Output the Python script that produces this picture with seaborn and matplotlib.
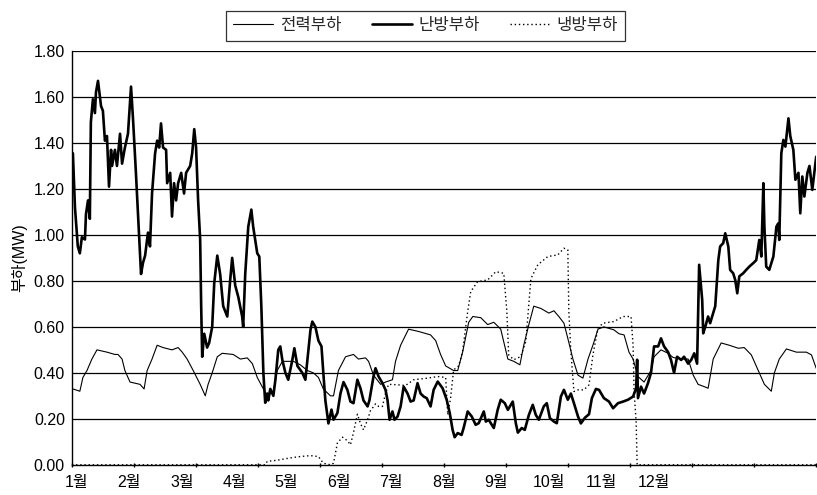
import matplotlib
matplotlib.use("Agg")
import matplotlib.pyplot as plt
import numpy as np
import pandas as pd
import seaborn as sns

# day of year / load [MW]
elec_day = [0.5, 3.9, 5.4, 7.4, 9.8, 12.3, 17.2, 21.1, 22.6, 24.6, 26.0, 28.5, 33.4, 35.4, 36.9,
            39.3, 41.8, 44.7, 49.1, 52.1, 54.1, 56.5, 59.5, 62.9, 65.4, 66.8, 68.8, 71.3, 73.7,
            79.1, 82.6, 86.0, 88.5, 90.9, 93.9, 95.8, 98.8, 100.7, 103.2, 108.6, 112.0, 115.5,
            118.4, 120.9, 123.3, 126.8, 128.3, 130.7, 134.2, 138.1, 140.5, 144.0, 145.5, 147.9,
            151.4, 153.8, 157.2, 158.7, 161.2, 165.1, 170.0, 175.9, 178.4, 180.8, 183.3, 187.2,
            189.2, 191.6, 194.6, 196.6, 200.5, 203.9, 206.9, 210.3, 213.8, 216.7, 219.7, 221.6,
            224.1, 226.5, 230.0, 233.9, 236.4, 238.8, 241.3, 243.2, 245.7, 248.2, 250.6, 253.1,
            255.5, 258.0, 260.9, 265.8, 268.3, 270.8, 273.2, 275.2, 277.6, 280.6, 284.0, 285.5,
            288.9, 292.4, 294.8, 298.8, 302.2, 304.7, 307.1, 310.1, 312.0, 314.5, 318.4, 322.4,
            326.8, 329.7, 333.2, 336.6, 339.6, 343.0, 344.5, 346.9, 350.4, 355.3, 360.2, 362.7,
            365.0]
elec_load = [0.33, 0.32, 0.38, 0.41, 0.46, 0.50, 0.49, 0.48, 0.48, 0.46, 0.41, 0.36, 0.35, 0.33, 0.41,
             0.46, 0.52, 0.51, 0.50, 0.51, 0.49, 0.46, 0.41, 0.35, 0.30, 0.35, 0.40, 0.47, 0.485,
             0.48, 0.46, 0.465, 0.44, 0.38, 0.33, 0.30, 0.32, 0.41, 0.45, 0.45, 0.435, 0.41,
             0.40, 0.38, 0.33, 0.30, 0.30, 0.41, 0.47, 0.48, 0.46, 0.465, 0.45, 0.39,
             0.35, 0.36, 0.37, 0.45, 0.52, 0.59, 0.58, 0.565, 0.54, 0.48, 0.43, 0.41,
             0.41, 0.49, 0.62, 0.645, 0.64, 0.61, 0.62, 0.59, 0.46, 0.45, 0.435, 0.52,
             0.61, 0.69, 0.68, 0.66, 0.67, 0.645, 0.616, 0.55, 0.46, 0.39, 0.377, 0.46,
             0.52, 0.59, 0.60, 0.587, 0.57, 0.565, 0.49, 0.46, 0.384, 0.36, 0.41, 0.47,
             0.50, 0.485, 0.467, 0.46, 0.46, 0.39, 0.35, 0.34, 0.333, 0.46, 0.53, 0.52,
             0.507, 0.51, 0.478, 0.41, 0.35, 0.32, 0.40, 0.46, 0.504, 0.49, 0.49, 0.478,
             0.42]

heat_day = [0.5, 1.5, 2.9, 3.9, 4.9, 6.4, 6.9, 7.9, 8.8, 9.3, 10.3, 11.3, 11.8, 12.8, 14.3, 15.2,
            16.2, 17.2, 18.2, 19.2, 19.7, 21.1, 22.1, 23.6, 24.6, 26.0, 27.5, 29.0, 30.0, 31.4,
            32.9, 33.9, 34.9, 35.9, 37.3, 38.3, 39.3, 40.8, 41.8, 42.8, 43.7, 44.7, 46.2, 46.7,
            48.2, 49.1, 50.1, 51.1, 52.1, 53.6, 55.0, 56.0, 58.0, 59.0, 60.0, 60.9, 61.9, 62.9,
            63.4, 63.9, 64.9, 66.3, 67.3, 68.8, 69.8, 71.3, 72.7, 74.2, 76.2, 77.6, 78.6, 80.1,
            81.6, 83.5, 84.0, 85.0, 86.5, 88.0, 88.9, 90.9, 91.9, 92.9, 93.9, 94.8, 95.8, 96.3,
            97.3, 98.8, 99.8, 101.2, 102.2, 103.2, 104.7, 106.1, 108.1, 109.1, 110.6, 113.0,
            114.5, 116.0, 117.0, 117.9, 119.4, 120.9, 122.4, 123.3, 124.3, 125.8, 127.3, 128.3,
            130.2, 131.7, 133.2, 135.1, 136.6, 138.1, 140.0, 141.5, 143.0, 145.0, 145.9, 147.9,
            148.9, 150.4, 152.3, 153.8, 154.8, 155.8, 157.2, 158.2, 159.7, 161.2, 162.7, 164.6,
            166.1, 167.6, 169.5, 171.0, 172.5, 174.0, 175.9, 177.4, 179.4, 181.8, 183.8, 185.3,
            186.7, 187.7, 189.2, 191.1, 192.1, 194.1, 196.1, 198.0, 199.5, 202.0, 203.0, 204.4,
            206.9, 208.8, 210.3, 212.3, 213.8, 216.2, 217.7, 218.7, 220.6, 222.1, 224.1, 226.0,
            227.5, 229.0, 231.4, 232.9, 234.4, 236.4, 237.8, 239.8, 241.3, 243.2, 244.7, 246.2,
            248.2, 249.6, 251.6, 253.6, 255.0, 257.0, 258.5, 260.9, 263.4, 265.4, 267.8, 270.3,
            272.7, 275.2, 276.7, 277.2, 277.6, 279.1, 280.6, 282.5, 284.0, 285.5, 287.5, 288.9,
            290.4, 292.4, 293.8, 295.3, 296.8, 298.8, 300.2, 302.2, 303.7, 305.2, 306.6, 307.6,
            309.1, 309.6, 310.6, 312.0, 313.0, 314.5, 315.5, 317.0, 317.9, 319.4, 320.4, 321.9,
            322.8, 324.3, 325.3, 326.3, 327.3, 329.2, 330.7, 332.2, 334.1, 335.6, 337.1, 338.1,
            339.1, 339.6, 340.5, 342.0, 343.0, 344.0, 345.5, 346.4, 346.9, 347.9, 348.9, 349.9,
            351.4, 352.3, 353.8, 354.8, 356.3, 357.2, 358.2, 359.2, 360.7, 361.7, 363.1, 364.1,
            365.0]
heat_load = [1.355, 1.12, 0.95, 0.92, 0.99, 0.98, 1.09, 1.15, 1.07, 1.49, 1.59, 1.53, 1.62, 1.67, 1.56, 1.54,
             1.41, 1.43, 1.21, 1.37, 1.30, 1.37, 1.30, 1.44, 1.31, 1.38, 1.44, 1.645, 1.50, 1.27,
             1.01, 0.83, 0.88, 0.91, 1.01, 0.95, 1.18, 1.355, 1.41, 1.38, 1.485, 1.38, 1.37, 1.225,
             1.27, 1.08, 1.225, 1.15, 1.225, 1.27, 1.18, 1.27, 1.30, 1.355, 1.46, 1.38, 1.15, 0.98,
             0.69, 0.47, 0.57, 0.51, 0.53, 0.60, 0.79, 0.91, 0.83, 0.69, 0.645, 0.80, 0.90, 0.78,
             0.73, 0.645, 0.60, 0.83, 1.036, 1.11, 1.036, 0.92, 0.906, 0.69, 0.40, 0.27, 0.31, 0.28,
             0.33, 0.30, 0.37, 0.50, 0.515, 0.456, 0.40, 0.37, 0.456, 0.507, 0.43, 0.40,
             0.37, 0.50, 0.587, 0.623, 0.60, 0.54, 0.515, 0.40, 0.28, 0.18, 0.24, 0.196,
             0.225, 0.31, 0.36, 0.326, 0.275, 0.268, 0.37, 0.333, 0.28, 0.254, 0.28, 0.384,
             0.42, 0.384, 0.355, 0.326, 0.28, 0.196, 0.232, 0.196, 0.21, 0.254, 0.34, 0.31,
             0.275, 0.28, 0.355, 0.31, 0.297, 0.29, 0.254, 0.326, 0.362, 0.333, 0.283, 0.225,
             0.152, 0.12, 0.138, 0.13, 0.16, 0.232, 0.21, 0.174, 0.181, 0.232, 0.188, 0.196,
             0.16, 0.239, 0.283, 0.268, 0.239, 0.275, 0.181, 0.14, 0.16, 0.152, 0.217, 0.261,
             0.217, 0.196, 0.254, 0.268, 0.203, 0.188, 0.181, 0.297, 0.326, 0.283, 0.31, 0.268,
             0.21, 0.18, 0.205, 0.22, 0.29, 0.33, 0.326, 0.29, 0.275, 0.246, 0.268, 0.275,
             0.283, 0.297, 0.333, 0.457, 0.29, 0.34, 0.31, 0.355, 0.40, 0.515, 0.515, 0.55,
             0.515, 0.49, 0.456, 0.40, 0.47, 0.456, 0.47, 0.44, 0.456, 0.485, 0.44, 0.87,
             0.717, 0.572, 0.60, 0.645, 0.616, 0.66, 0.69, 0.89, 0.95, 0.964, 1.007, 0.95,
             0.848, 0.833, 0.804, 0.746, 0.82, 0.833, 0.848, 0.862, 0.877, 0.89, 0.978, 0.906,
             1.225, 1.036, 0.862, 0.848, 0.877, 0.906, 1.036, 1.05, 0.978, 1.355, 1.413, 1.384,
             1.507, 1.43, 1.37, 1.24, 1.27, 1.094, 1.254, 1.167, 1.27, 1.30, 1.196, 1.27,
             1.34]

cool_day = [0.0, 94.8, 95.8, 100.7, 107.1, 112.0, 117.0, 120.9, 123.3, 126.8, 128.3, 130.2, 132.7,
            135.1, 136.6, 138.1, 140.0, 141.5, 143.0, 145.0, 146.4, 148.9, 150.4, 152.3, 153.8,
            155.3, 159.7, 163.6, 167.6, 174.4, 179.4, 183.3, 184.3, 185.7, 187.2, 189.7, 191.6,
            194.1, 195.6, 199.0, 203.9, 207.9, 211.8, 213.3, 214.2, 216.7, 220.1, 222.6, 225.1,
            228.5, 233.4, 238.3, 241.3, 243.2, 243.7, 244.7, 246.2, 248.2, 251.1, 253.6, 255.5,
            258.0, 260.4, 265.8, 270.3, 274.2, 275.2, 275.7, 276.7, 277.2, 365.0]
cool_load = [0.0, 0.0, 0.015, 0.02, 0.03, 0.036, 0.04, 0.036, 0.007, 0.0, 0.007, 0.095, 0.12,
             0.105, 0.087, 0.14, 0.22, 0.18, 0.152, 0.196, 0.235, 0.265, 0.254, 0.254, 0.31,
             0.35, 0.348, 0.345, 0.37, 0.377, 0.384, 0.38, 0.217, 0.29, 0.413, 0.43, 0.493,
             0.667, 0.754, 0.797, 0.804, 0.84, 0.833, 0.667, 0.478, 0.457, 0.471, 0.536, 0.81,
             0.87, 0.906, 0.913, 0.942, 0.935, 0.667, 0.493, 0.319, 0.326, 0.326, 0.348, 0.478,
             0.594, 0.616, 0.623, 0.645, 0.645, 0.52, 0.319, 0.188, 0.0, 0.0]

months = ["1월", "2월", "3월", "4월", "5월", "6월", "7월", "8월", "9월", "10월", "11월", "12월"]
series_names = ["전력부하", "난방부하", "냉방부하"]
y_ticks = [0.0, 0.2, 0.4, 0.6, 0.8, 1.0, 1.2, 1.4, 1.6, 1.8]

sns.set_theme(style="white")
plt.rcParams["font.family"] = ["Liberation Sans", "Noto Sans CJK KR", "DejaVu Sans"]

fig = plt.figure(figsize=(8.17, 4.95), dpi=100)
ax = fig.add_axes([0.088, 0.061, 0.911, 0.836])

elec = pd.DataFrame({"day": elec_day, "load": elec_load})
heat = pd.DataFrame({"day": heat_day, "load": heat_load})
cool = pd.DataFrame({"day": cool_day, "load": cool_load})

for yv in y_ticks[1:]:
    ax.axhline(yv, color="black", lw=0.9, zorder=1)

sns.lineplot(data=cool, x="day", y="load", ax=ax, color="black", lw=1.0,
             linestyle=(0, (1, 2)), label=series_names[2], zorder=3)
sns.lineplot(data=elec, x="day", y="load", ax=ax, color="black", lw=0.8,
             label=series_names[0], zorder=3)
sns.lineplot(data=heat, x="day", y="load", ax=ax, color="black", lw=1.9,
             label=series_names[1], zorder=4)

ax.set_xlim(0, 365)
ax.set_ylim(0, 1.8)
ax.set_yticks(y_ticks)
ax.set_yticklabels([f"{v:.2f}" for v in y_ticks], fontsize=11.5)
ax.set_xticks(np.linspace(2.5, 285.2, 12))
ax.set_xticklabels(months, fontsize=11.5)
ax.set_xticks(np.linspace(0, 365, 13), minor=True)
ax.tick_params(axis="x", which="major", length=0, pad=7, colors="black")
ax.tick_params(axis="x", which="minor", length=3, direction="inout", color="black", bottom=True)
ax.tick_params(axis="y", length=0, pad=5, colors="black")
ax.set_xlabel("")
ax.set_ylabel("부하(MW)", fontsize=11.5, color="black", labelpad=5)

for side in ["top", "right"]:
    ax.spines[side].set_visible(False)
for side in ["left", "bottom"]:
    ax.spines[side].set_color("black")
    ax.spines[side].set_linewidth(1.0)

handles, labels = ax.get_legend_handles_labels()
order = [labels.index(n) for n in series_names]
ax.legend_.remove()
leg = fig.legend([handles[i] for i in order], series_names, loc="center",
                 bbox_to_anchor=(0.521, 0.948), ncol=3, fontsize=12, frameon=True,
                 fancybox=False, edgecolor="black", handlelength=2.4, columnspacing=1.8,
                 handletextpad=0.4, borderpad=0.45)
leg.get_frame().set_linewidth(0.9)

fig.savefig("out.png", dpi=100)
